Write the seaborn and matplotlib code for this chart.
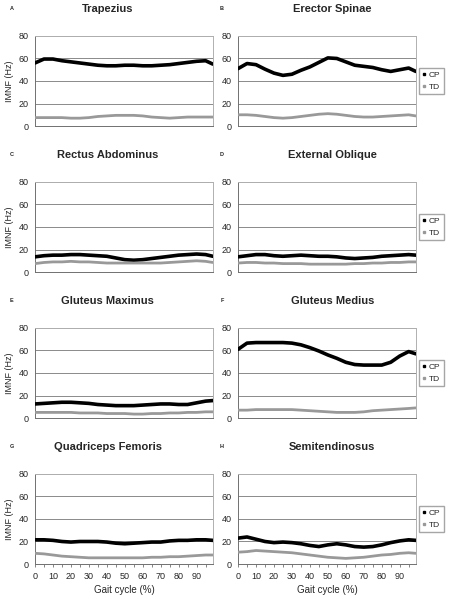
import pandas as pd
import matplotlib.pyplot as plt
import seaborn as sns
from matplotlib.lines import Line2D

sns.set_style("white")
plt.rcParams["font.family"] = ["Liberation Sans", "DejaVu Sans"]

gait = [0, 5, 10, 15, 20, 25, 30, 35, 40, 45, 50, 55, 60, 65, 70, 75, 80, 85, 90, 95, 99]

muscles = ["Trapezius", "Erector Spinae", "Rectus Abdominus", "External Oblique",
           "Gluteus Maximus", "Gluteus Medius", "Quadriceps Femoris", "Semitendinosus"]
letters = ["A", "B", "C", "D", "E", "F", "G", "H"]

trap_cp = [56, 59.5, 59.5, 58, 57, 56, 55, 54, 53.5, 53.5, 54, 54, 53.5, 53.5, 54, 54.5, 55.5, 56.5, 57.5, 58, 55]
trap_td = [7.5, 7.5, 7.5, 7.5, 7, 7, 7.5, 8.5, 9, 9.5, 9.5, 9.5, 9, 8, 7.5, 7, 7.5, 8, 8, 8, 8]
erec_cp = [51, 55.5, 54.5, 50.5, 47, 45, 46, 49.5, 52.5, 56.5, 60.5, 60, 57, 54, 53, 52, 50, 48.5, 50, 51.5, 48.5]
erec_td = [10, 10, 9.5, 8.5, 7.5, 7, 7.5, 8.5, 9.5, 10.5, 11, 10.5, 9.5, 8.5, 8, 8, 8.5, 9, 9.5, 10, 9]
rect_cp = [13.5, 14.5, 15, 15, 15.5, 15.5, 15, 14.5, 14, 12.5, 11, 10.5, 11, 12, 13, 14, 15, 15.5, 16, 15.5, 14]
rect_td = [7.5, 8.5, 9, 9, 9.5, 9, 9, 8.5, 8, 8, 8, 8, 8, 8, 8, 8.5, 9, 9.5, 10, 9.5, 8.5]
obli_cp = [13.5, 14.5, 15.5, 15.5, 14.5, 14, 14.5, 15, 14.5, 14, 14, 13.5, 12.5, 12, 12.5, 13, 14, 14.5, 15, 15.5, 15]
obli_td = [8, 8.5, 8.5, 8, 8, 7.5, 7.5, 7.5, 7, 7, 7, 7, 7, 7.5, 7.5, 8, 8, 8.5, 8.5, 9, 9]
gmax_cp = [12.5, 13, 13.5, 14, 14, 13.5, 13, 12, 11.5, 11, 11, 11, 11.5, 12, 12.5, 12.5, 12, 12, 13.5, 15, 15.5]
gmax_td = [5, 5, 5, 5, 5, 4.5, 4.5, 4.5, 4, 4, 4, 3.5, 3.5, 4, 4, 4.5, 4.5, 5, 5, 5.5, 5.5]
gmed_cp = [61, 66.5, 67, 67, 67, 67, 66.5, 65, 62.5, 59.5, 56, 53, 49.5, 47.5, 47, 47, 47, 49.5, 55, 59, 57]
gmed_td = [7, 7, 7.5, 7.5, 7.5, 7.5, 7.5, 7, 6.5, 6, 5.5, 5, 5, 5, 5.5, 6.5, 7, 7.5, 8, 8.5, 9]
quad_cp = [21.5, 21.5, 21, 20, 19.5, 20, 20, 20, 19.5, 18.5, 18, 18.5, 19, 19.5, 19.5, 20.5, 21, 21, 21.5, 21.5, 21]
quad_td = [9.5, 9, 8, 7, 6.5, 6, 5.5, 5.5, 5.5, 5.5, 5.5, 5.5, 5.5, 6, 6, 6.5, 6.5, 7, 7.5, 8, 8]
semi_cp = [23, 24, 22, 20, 19, 19.5, 19, 18, 16.5, 15.5, 17, 18, 17, 15.5, 15, 15.5, 17, 19, 20.5, 21.5, 21]
semi_td = [10.5, 11, 12, 11.5, 11, 10.5, 10, 9, 8, 7, 6, 5.5, 5, 5.5, 6, 7, 8, 8.5, 9.5, 10, 9.5]

cp_vals = [trap_cp, erec_cp, rect_cp, obli_cp, gmax_cp, gmed_cp, quad_cp, semi_cp]
td_vals = [trap_td, erec_td, rect_td, obli_td, gmax_td, gmed_td, quad_td, semi_td]

palette = {"CP": "black", "TD": "#999999"}

fig, axes = plt.subplots(4, 2, figsize=(4.52, 5.99), dpi=100)
fig.subplots_adjust(left=0.0774, right=0.920, top=0.940, bottom=0.0584,
                    hspace=0.62, wspace=0.142)

for i, ax in enumerate(axes.flat):
    df = pd.DataFrame({
        "gait": gait * 2,
        "imnf": cp_vals[i] + td_vals[i],
        "group": ["CP"] * len(gait) + ["TD"] * len(gait),
    })
    sns.lineplot(data=df, x="gait", y="imnf", hue="group", palette=palette,
                 ax=ax, legend=False, zorder=3)
    ax.lines[0].set_linewidth(2.6)
    ax.lines[1].set_linewidth(2.0)
    ax.set_xlim(0, 99)
    ax.set_ylim(0, 80)
    ax.set_yticks([0, 20, 40, 60, 80])
    ax.grid(axis="y", color="#8a8a8a", linewidth=0.7)
    ax.set_axisbelow(True)
    for s in ["top", "right"]:
        ax.spines[s].set_color("#b0b0b0")
        ax.spines[s].set_linewidth(0.7)
    for s in ["left", "bottom"]:
        ax.spines[s].set_color("#707070")
        ax.spines[s].set_linewidth(0.7)
    ax.tick_params(axis="y", labelsize=6.5, length=2.5, width=0.6, color="#707070", pad=2)
    ax.set_xlabel("")
    ax.set_ylabel("")
    row, col = divmod(i, 2)
    if row == 3:
        ax.set_xticks(range(0, 91, 10))
        ax.set_xticks(range(0, 100, 5), minor=True)
        ax.tick_params(axis="x", which="both", labelsize=6.5, length=2.5, width=0.6,
                       color="#707070", pad=3, bottom=True)
        ax.set_xlabel("Gait cycle (%)", fontsize=7, labelpad=3)
    else:
        ax.set_xticks([])
    if col == 0:
        ax.set_ylabel("IMNF (Hz)", fontsize=6.5, labelpad=3)
        tx = 0.408
    else:
        tx = 0.53
        handles = [Line2D([], [], marker="s", linestyle="", color=palette[g], markersize=2)
                   for g in ["CP", "TD"]]
        ax.legend(handles, ["CP", "TD"], loc="center left", bbox_to_anchor=(1.02, 0.5),
                  fontsize=6, frameon=True, fancybox=False, edgecolor="#909090",
                  handlelength=0.4, handletextpad=0.4, borderpad=0.35,
                  labelspacing=0.45, borderaxespad=0)
    ax.text(tx, 1.30, muscles[i], transform=ax.transAxes, ha="center", va="center",
            fontsize=8, fontweight="bold")
    ax.text(-0.13 if col == 0 else -0.09, 1.30, letters[i], transform=ax.transAxes,
            ha="center", va="center", fontsize=4, fontweight="bold")

plt.savefig("out.png", dpi=100)
plt.close()
